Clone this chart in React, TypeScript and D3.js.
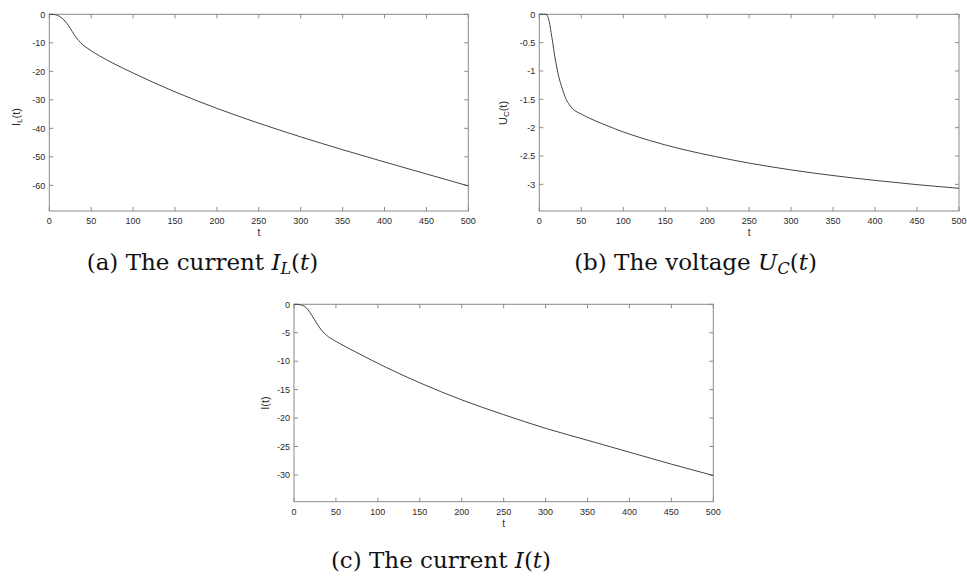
import React from "react";
import * as d3 from "d3";

// Time grid (shared x domain 0..500)
const xTicks = [0, 50, 100, 150, 200, 250, 300, 350, 400, 450, 500];

// (a) inductor current I_L(t)
const tIL = [0, 5, 10, 15, 20, 25, 30, 35, 40, 45, 50, 60, 75, 100, 125, 150, 200, 250, 300, 350, 400, 450, 500];
const vIL = [0, -0.05, -0.4, -1.3, -2.8, -4.9, -7.3, -9.2, -10.7, -11.8, -12.8, -14.6, -17, -20.6, -24, -27.2, -33, -38.2, -43, -47.5, -51.8, -56, -60.2];
const ticksIL = [0, -10, -20, -30, -40, -50, -60];

// (b) capacitor voltage U_C(t)
const tUC = [0, 5, 9, 10, 12, 14, 16, 18, 20, 22, 25, 28, 32, 36, 40, 50, 60, 75, 90, 130, 170, 210, 250, 300, 350, 400, 450, 500];
const vUC = [0, 0, 0, -0.04, -0.14, -0.32, -0.5, -0.7, -0.87, -1.02, -1.2, -1.34, -1.5, -1.6, -1.67, -1.76, -1.835, -1.93, -2.02, -2.22, -2.38, -2.51, -2.625, -2.745, -2.845, -2.93, -3.005, -3.07];
const ticksUC = [0, -0.5, -1, -1.5, -2, -2.5, -3];

// (c) total current I(t)
const tI = [0, 5, 10, 13, 17, 21, 27, 33, 41, 51, 75, 110, 150, 200, 250, 300, 350, 400, 450, 500];
const vI = [0, -0.02, -0.2, -0.42, -1.0, -1.9, -3.3, -4.6, -5.7, -6.6, -8.5, -11.1, -13.8, -16.8, -19.4, -21.8, -23.9, -26, -28.1, -30.1];
const ticksI = [0, -5, -10, -15, -20, -25, -30];

const AXIS = "#8a8a8a";
const LINE = "#444";
const TXT = "#2a2a2a";
const SANS = "'Liberation Sans', Arial, sans-serif";
const SERIF = "'DejaVu Serif', serif";

type PanelProps = {
  left: number; right: number; top: number; bottom: number;
  yMin: number; t: number[]; v: number[]; yTicks: number[];
  labelMain: string; labelSub: string; labelX: number; labelY: number;
};

function Panel(p: PanelProps) {
  const x = d3.scaleLinear().domain([0, 500]).range([p.left, p.right]);
  const y = d3.scaleLinear().domain([p.yMin, 0]).range([p.bottom, p.top]);
  const line = d3.line<number>()
    .x((_, i) => x(p.t[i]))
    .y((d) => y(d))
    .curve(d3.curveMonotoneX);
  const tl = 4;
  return (
    <g>
      <rect x={p.left} y={p.top} width={p.right - p.left} height={p.bottom - p.top}
        fill="none" stroke={AXIS} strokeWidth={1} />
      {xTicks.map((t) => (
        <g key={"x" + t}>
          <line x1={x(t)} x2={x(t)} y1={p.bottom} y2={p.bottom - tl} stroke={AXIS} />
          <line x1={x(t)} x2={x(t)} y1={p.top} y2={p.top + tl} stroke={AXIS} />
          <text x={x(t)} y={p.bottom + 13} textAnchor="middle" fontFamily={SANS} fontSize={9} fill={TXT}>{t}</text>
        </g>
      ))}
      {p.yTicks.map((t) => (
        <g key={"y" + t}>
          <line x1={p.left} x2={p.left + tl} y1={y(t)} y2={y(t)} stroke={AXIS} />
          <line x1={p.right} x2={p.right - tl} y1={y(t)} y2={y(t)} stroke={AXIS} />
          <text x={p.left - 4} y={y(t) + 3.2} textAnchor="end" fontFamily={SANS} fontSize={9} fill={TXT}>{String(t)}</text>
        </g>
      ))}
      <text x={(p.left + p.right) / 2} y={p.bottom + 25} textAnchor="middle" fontFamily={SANS} fontSize={10} fill={TXT}>t</text>
      <text transform={`translate(${p.labelX},${p.labelY}) rotate(-90)`} textAnchor="middle"
        fontFamily={SANS} fontSize={11} fill={TXT}>
        {p.labelMain}
        {p.labelSub && <tspan dy={2} fontSize={8}>{p.labelSub}</tspan>}
        <tspan dy={p.labelSub ? -2 : 0}>(t)</tspan>
      </text>
      <path d={line(p.v) || ""} fill="none" stroke={LINE} strokeWidth={1} />
    </g>
  );
}

function Caption({ cx, y, tag, word, sym, sub }: { cx: number; y: number; tag: string; word: string; sym: string; sub: string }) {
  return (
    <text x={cx} y={y} textAnchor="middle" fontFamily={SERIF} fontSize={23} fill="#111">
      {`(${tag}) The ${word} `}
      <tspan fontStyle="italic">{sym}</tspan>
      {sub && <tspan fontStyle="italic" fontSize={16} dy={4}>{sub}</tspan>}
      <tspan dy={sub ? -4 : 0}>(</tspan>
      <tspan fontStyle="italic">t</tspan>
      <tspan>)</tspan>
    </text>
  );
}

export default function App() {
  return (
    <svg width={967} height={576} style={{ position: "absolute", left: 0, top: 0, background: "#fff" }}>
      <Panel left={49.3} right={468.3} top={14.3} bottom={211} yMin={-69} t={tIL} v={vIL} yTicks={ticksIL}
        labelMain="I" labelSub="L" labelX={20} labelY={117} />
      <Panel left={539.3} right={959} top={14.3} bottom={211} yMin={-3.47} t={tUC} v={vUC} yTicks={ticksUC}
        labelMain="U" labelSub="C" labelX={507} labelY={113} />
      <Panel left={294} right={713.3} top={304.3} bottom={501.7} yMin={-34.7} t={tI} v={vI} yTicks={ticksI}
        labelMain="I" labelSub="" labelX={269} labelY={403} />
      <Caption cx={202.5} y={270} tag="a" word="current" sym="I" sub="L" />
      <Caption cx={695.5} y={270} tag="b" word="voltage" sym="U" sub="C" />
      <Caption cx={441} y={568} tag="c" word="current" sym="I" sub="" />
    </svg>
  );
}
